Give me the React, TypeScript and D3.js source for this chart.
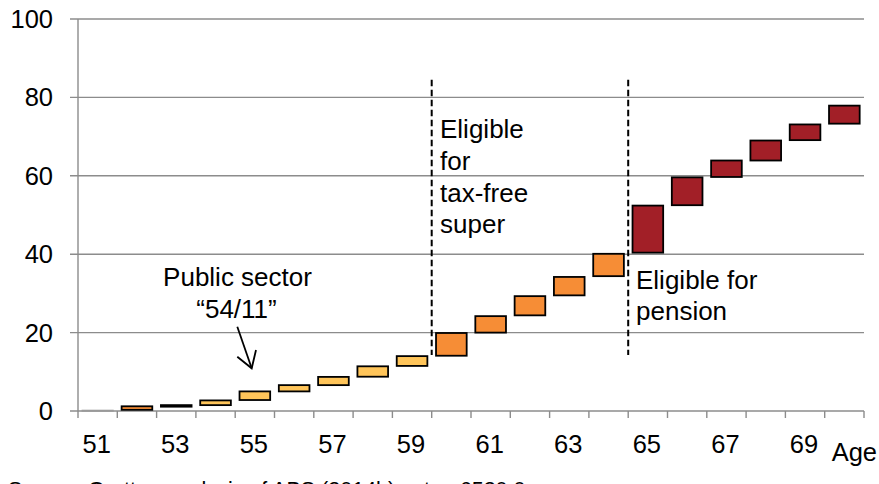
import React from "react";
import * as d3 from "d3";

const ages = [51, 52, 53, 54, 55, 56, 57, 58, 59, 60, 61, 62, 63, 64, 65, 66, 67, 68, 69, 70];
const lows = [0, 0.3, 1.1, 1.5, 2.8, 5.0, 6.6, 8.75, 11.5, 14.1, 20.0, 24.4, 29.5, 34.4, 40.4, 52.5, 59.7, 63.9, 69.1, 73.3];
const highs = [0.15, 1.2, 1.5, 2.7, 5.0, 6.6, 8.7, 11.4, 14.0, 19.9, 24.2, 29.3, 34.2, 40.1, 52.4, 59.6, 63.9, 69.0, 73.1, 77.9];
const groups = ["none", "orange", "yellow", "yellow", "yellow", "yellow", "yellow", "yellow", "yellow", "orange", "orange", "orange", "orange", "orange", "red", "red", "red", "red", "red", "red"];
const yTicks = [0, 20, 40, 60, 80, 100];
const xTickLabels = [51, 53, 55, 57, 59, 61, 63, 65, 67, 69];
const markerAges = [60, 65];

const fillOf: Record<string, string> = {
  none: "none",
  yellow: "#FFC55A",
  orange: "#F68D36",
  red: "#A21F27",
};

const W = 879;
const H = 484;
const left = 78;
const right = 864;
const top = 19;
const bottom = 411;
const FONT = "'Liberation Sans', Arial, Helvetica, sans-serif";

export default function App() {
  const x = d3
    .scaleBand<number>()
    .domain(ages)
    .range([left, right])
    .paddingInner(0.22)
    .paddingOuter(0.11);
  const y = d3.scaleLinear().domain([0, 100]).range([bottom, top]);
  const step = x.step();
  const boundary = (k: number) => left + k * step;
  const grid = "#8C8C8C";

  return (
    <svg
      width={W}
      height={H}
      style={{ position: "absolute", left: 0, top: 0, background: "#fff" }}
      fontFamily={FONT}
    >
      {/* gridlines */}
      {yTicks.map((t) => (
        <line key={"g" + t} x1={left - 8} x2={right} y1={y(t)} y2={y(t)} stroke={grid} strokeWidth={1.4} />
      ))}
      {/* y axis */}
      <line x1={left} x2={left} y1={y(100)} y2={y(0)} stroke={grid} strokeWidth={1.4} />
      {yTicks.map((t) => (
        <text key={"yl" + t} x={53} y={y(t) + 9} textAnchor="end" fontSize={25.5} fill="#000">
          {t}
        </text>
      ))}
      {/* x ticks */}
      {d3.range(ages.length + 1).map((k) => (
        <line key={"xt" + k} x1={boundary(k)} x2={boundary(k)} y1={y(0)} y2={y(0) + 7} stroke={grid} strokeWidth={1.4} />
      ))}
      {xTickLabels.map((a) => (
        <text key={"xl" + a} x={(x(a) as number) + x.bandwidth() / 2 - 1} y={452.5} textAnchor="middle" fontSize={25.5} fill="#000">
          {a}
        </text>
      ))}
      <text x={877} y={461} textAnchor="end" fontSize={25.5} fill="#000">
        Age
      </text>

      {/* bars */}
      {ages.map((a, i) => {
        const g = groups[i];
        const x0 = x(a) as number;
        const yTop = y(highs[i]);
        const yBot = y(lows[i]);
        if (g === "none") {
          return (
            <rect key={"b" + a} x={x0} y={yTop} width={x.bandwidth()} height={Math.max(0.5, yBot - yTop)} fill="none" stroke="#9A9A9A" strokeWidth={1.4} />
          );
        }
        return (
          <rect
            key={"b" + a}
            x={x0}
            y={yTop}
            width={x.bandwidth()}
            height={yBot - yTop}
            fill={fillOf[g]}
            stroke="#000"
            strokeWidth={1.8}
          />
        );
      })}

      {/* marker dashed lines */}
      {markerAges.map((a) => {
        const k = ages.indexOf(a);
        return (
          <line
            key={"m" + a}
            x1={boundary(k)}
            x2={boundary(k)}
            y1={y(84.5)}
            y2={y(14.3)}
            stroke="#000"
            strokeWidth={2}
            strokeDasharray="6.5,3.5"
          />
        );
      })}

      {/* annotations */}
      <g fontSize={26} fill="#000">
        <text x={440} y={138.3}>Eligible</text>
        <text x={440} y={169.8}>for</text>
        <text x={440} y={201.5}>tax-free</text>
        <text x={440} y={233}>super</text>
        <text x={636} y={288.5}>Eligible for</text>
        <text x={636} y={320}>pension</text>
        <text x={237.5} y={286} textAnchor="middle">Public sector</text>
        <text x={236.5} y={317.7} textAnchor="middle">“54/11”</text>
      </g>
      {/* arrow */}
      <g stroke="#000" strokeWidth={1.8} fill="none">
        <line x1={237.3} y1={326.7} x2={251.7} y2={368.3} />
        <polyline points="237.3,356.7 251.7,368.3 256,350" />
      </g>

      {/* source */}
      <text x={8} y={497} fontSize={21.5} fill="#000">
        Source: Grattan analysis of ABS (2014b) catno 6520.0
      </text>
    </svg>
  );
}
